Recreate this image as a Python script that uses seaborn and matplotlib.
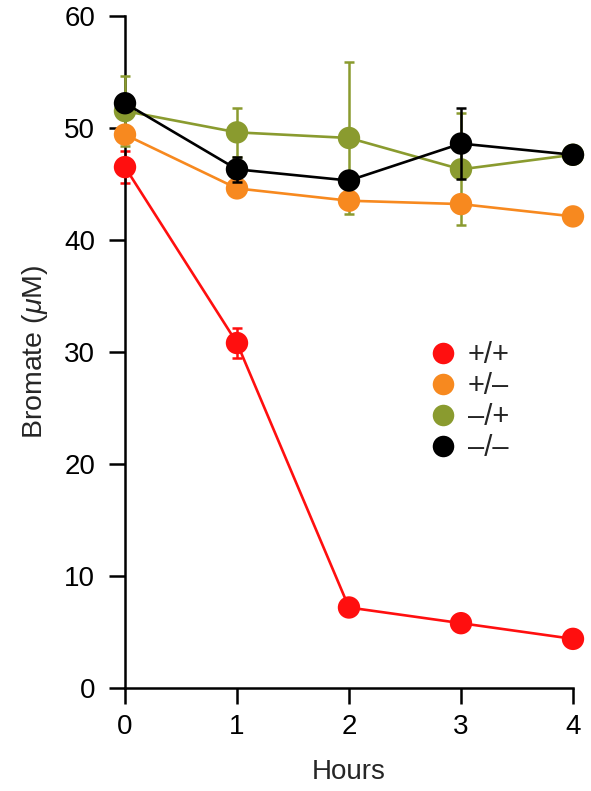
import pandas as pd
import matplotlib
matplotlib.use("Agg")
import matplotlib.pyplot as plt
import seaborn as sns

sns.set_theme(style="ticks")
plt.rcParams["font.family"] = ["Liberation Sans", "DejaVu Sans"]
plt.rcParams["mathtext.fontset"] = "custom"
plt.rcParams["mathtext.it"] = "Liberation Sans:italic"
plt.rcParams["mathtext.rm"] = "Liberation Sans"

HOURS = [0, 1, 2, 3, 4]
GROUPS = ["+/+", "+/\u2013", "\u2013/+", "\u2013/\u2013"]
COLORS = ["#FF0F0F", "#F7891F", "#8A9B2F", "#000000"]

MEAN_PP = [46.5, 30.8, 7.2, 5.8, 4.4]
MEAN_PM = [49.4, 44.6, 43.5, 43.2, 42.1]
MEAN_MP = [51.5, 49.6, 49.1, 46.3, 47.6]
MEAN_MM = [52.2, 46.3, 45.3, 48.6, 47.6]

ERR_PP = [1.4, 1.3, 0.0, 0.0, 0.0]
ERR_PM = [0.5, 0.7, 0.4, 0.3, 0.0]
ERR_MP = [3.1, 2.2, 6.8, 5.0, 0.0]
ERR_MM = [0.6, 1.1, 0.3, 3.2, 0.0]

means = [MEAN_PP, MEAN_PM, MEAN_MP, MEAN_MM]
errs = [ERR_PP, ERR_PM, ERR_MP, ERR_MM]

df = pd.concat([
    pd.DataFrame({"Hours": HOURS, "Bromate": m, "err": e, "group": g})
    for m, e, g in zip(means, errs, GROUPS)
], ignore_index=True)

fig = plt.figure(figsize=(5.91, 7.91), dpi=100)
ax = fig.add_axes([0.2115, 0.130, 0.758, 0.850])

palette = dict(zip(GROUPS, COLORS))
draw_order = ["+/+", "\u2013/+", "+/\u2013", "\u2013/\u2013"]
for z, g in enumerate(draw_order):
    sub = df[df["group"] == g]
    ax.errorbar(sub["Hours"], sub["Bromate"], yerr=sub["err"], fmt="none",
                ecolor=palette[g], elinewidth=1.8, capsize=3.6, capthick=1.8,
                zorder=2 + z * 3)
    sns.lineplot(data=sub, x="Hours", y="Bromate", color=palette[g],
                 linewidth=1.9, ax=ax, zorder=3 + z * 3, errorbar=None)
    sns.scatterplot(data=sub, x="Hours", y="Bromate", color=palette[g],
                    s=260, edgecolor="none", ax=ax, zorder=4 + z * 3)

ax.set_xlim(0, 4)
ax.set_ylim(0, 60)
ax.set_xticks(HOURS)
ax.set_yticks([0, 10, 20, 30, 40, 50, 60])
for sp in ["top", "right"]:
    ax.spines[sp].set_visible(False)
for sp in ["left", "bottom"]:
    ax.spines[sp].set_linewidth(1.8)
    ax.spines[sp].set_color("black")
ax.tick_params(direction="out", length=11.5, width=1.8, labelsize=20,
               colors="black")
ax.tick_params(axis="x", pad=7)
ax.tick_params(axis="y", pad=10)
ax.set_xlabel("Hours", fontsize=20, labelpad=14)
ax.set_ylabel("Bromate ($\\mu$M)", fontsize=20.5, labelpad=10)

handles = [plt.Line2D([], [], marker="o", linestyle="none", markersize=15.5,
                      markerfacecolor=c, markeredgecolor="none") for c in COLORS]
ax.legend(handles, GROUPS, loc="upper left", bbox_to_anchor=(0.645, 0.533),
          frameon=False, fontsize=21, handletextpad=0.25, labelspacing=0.1,
          borderaxespad=0, handlelength=1.2)
for sp in ax.spines.values():
    sp.set_clip_on(False)
for art in ax.collections + ax.lines:
    art.set_clip_on(False)

fig.savefig("out.png", dpi=100)
plt.close(fig)
